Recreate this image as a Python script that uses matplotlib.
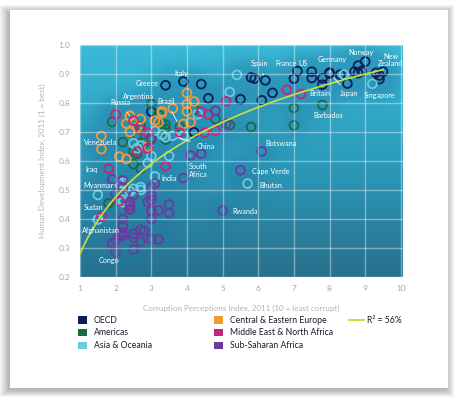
import numpy as np
import matplotlib
matplotlib.use("Agg")
import matplotlib.pyplot as plt
from matplotlib.colors import LinearSegmentedColormap
from matplotlib.patches import Rectangle, Patch
from matplotlib.lines import Line2D

plt.rcParams['font.family'] = ['Lato', 'DejaVu Sans']

# Corruption Perceptions Index (x) and Human Development Index (y), 2011
oecd_cpi = [8.8, 7.8, 7.5, 7.8, 8.7, 4.4, 9.4, 6.4, 9.4, 7.0, 8.0, 3.4, 4.6, 8.3, 7.5,
            5.8, 3.9, 8.0, 8.5, 3.0, 8.9, 9.5, 9.0, 5.5, 6.1, 5.9, 6.2, 9.3, 8.8, 4.2, 7.1]
oecd_hdi = [0.929, 0.885, 0.886, 0.863, 0.908, 0.865, 0.895, 0.835, 0.882, 0.884, 0.905,
            0.861, 0.816, 0.898, 0.908, 0.888, 0.874, 0.901, 0.867, 0.770, 0.910, 0.908,
            0.943, 0.813, 0.809, 0.884, 0.878, 0.904, 0.903, 0.699, 0.910]

amer_cpi = [3.0, 7.8, 2.8, 3.8, 3.4, 4.8, 4.2, 5.2, 2.6, 2.7, 3.4, 2.7, 2.5, 1.8, 2.6,
            3.3, 2.5, 3.3, 2.2, 3.4, 7.0, 5.8, 3.0, 3.2, 7.0, 1.9]
amer_hdi = [0.797, 0.793, 0.663, 0.718, 0.710, 0.744, 0.776, 0.724, 0.689, 0.720, 0.674,
            0.574, 0.633, 0.454, 0.625, 0.727, 0.589, 0.768, 0.665, 0.725, 0.723, 0.717,
            0.680, 0.760, 0.783, 0.735]

asia_cpi = [1.5, 2.7, 5.7, 5.2, 2.1, 3.6, 8.4, 3.1, 3.0, 5.4, 2.2, 4.3, 2.5, 2.7, 1.5,
            2.2, 2.5, 2.2, 2.6, 3.9, 9.2, 2.7, 3.3, 3.4, 2.4, 3.1, 3.5, 2.9]
asia_hdi = [0.398, 0.500, 0.522, 0.838, 0.523, 0.687, 0.898, 0.547, 0.617, 0.897, 0.524,
            0.761, 0.661, 0.653, 0.483, 0.458, 0.504, 0.466, 0.644, 0.688, 0.866, 0.510,
            0.691, 0.682, 0.495, 0.704, 0.617, 0.593]

cee_cpi = [3.1, 2.6, 2.4, 2.4, 3.2, 3.3, 4.0, 4.1, 2.7, 2.1, 4.2, 3.9, 2.9, 4.0, 3.6,
           2.4, 3.3, 4.0, 2.3, 1.6, 2.3, 1.6]
cee_hdi = [0.739, 0.716, 0.700, 0.756, 0.733, 0.771, 0.796, 0.733, 0.745, 0.615, 0.805,
           0.728, 0.649, 0.771, 0.781, 0.755, 0.766, 0.834, 0.607, 0.686, 0.729, 0.641]

mena_cpi = [2.9, 5.1, 2.9, 2.7, 1.8, 4.5, 4.6, 2.5, 2.0, 3.4, 4.8, 7.2, 4.4, 1.6, 2.6,
            3.8, 6.8, 2.1, 3.0, 2.4]
mena_hdi = [0.698, 0.806, 0.644, 0.707, 0.573, 0.698, 0.760, 0.739, 0.760, 0.582, 0.705,
            0.831, 0.770, 0.408, 0.632, 0.698, 0.846, 0.462, 0.430, 0.453]

ssa_cpi = [2.0, 3.0, 6.1, 3.0, 1.9, 2.5, 5.5, 2.2, 2.0, 2.4, 2.2, 2.0, 2.2, 1.9, 2.5,
           2.7, 3.0, 3.5, 3.9, 2.1, 2.2, 2.2, 3.5, 3.2, 3.0, 3.0, 2.8, 5.1, 2.7, 4.4,
           2.5, 2.4, 5.0, 3.0, 2.9, 4.8, 2.5, 4.1, 3.1, 3.0, 2.4, 2.4, 3.2, 2.2]
ssa_hdi = [0.486, 0.427, 0.633, 0.331, 0.316, 0.482, 0.568, 0.343, 0.328, 0.433, 0.533,
           0.286, 0.400, 0.537, 0.349, 0.363, 0.674, 0.420, 0.541, 0.344, 0.353, 0.509,
           0.450, 0.329, 0.480, 0.400, 0.359, 0.728, 0.322, 0.625, 0.295, 0.459, 0.429,
           0.509, 0.459, 0.773, 0.336, 0.619, 0.522, 0.466, 0.435, 0.446, 0.430, 0.376]

groups = ['OECD', 'Americas', 'Asia & Oceania', 'Central & Eastern Europe',
          'Middle East & North Africa', 'Sub-Saharan Africa']
colors = ['#0b1f5c', '#1a6b45', '#6ccbe0', '#f39a36', '#c2257a', '#6b3aa0']
series = [(oecd_cpi, oecd_hdi), (amer_cpi, amer_hdi), (asia_cpi, asia_hdi),
          (cee_cpi, cee_hdi), (mena_cpi, mena_hdi), (ssa_cpi, ssa_hdi)]

# trend curve as drawn: hdi = a + b * ln(cpi), over cpi 1 .. 9.5
trend_a = 0.28
trend_b = 0.282
trend_range = [1.0, 9.5]

# labelled countries: name, point, text position
lab_names = ['Greece', 'Italy', 'Argentina', 'Russia', 'Brazil', 'Venezuela', 'China',
             'South\nAfrica', 'India', 'Iraq', 'Myanmar', 'Sudan', 'Afghanistan', 'Congo',
             'Rwanda', 'Botswana', 'Cape Verde', 'Bhutan', 'Spain', 'France', 'US',
             'Germany', 'Norway', 'New\nZealand', 'Britain', 'Japan', 'Singapore', 'Barbados']
lab_px = [3.4, 3.9, 3.0, 2.4, 3.8, 1.9, 3.6, 4.1, 3.1, 1.8, 1.5, 1.6, 1.5, 2.0,
          5.0, 6.1, 5.5, 5.7, 6.2, 7.0, 7.1, 8.0, 9.0, 9.5, 7.8, 8.0, 9.2, 7.8]
lab_py = [0.861, 0.874, 0.797, 0.755, 0.718, 0.735, 0.687, 0.619, 0.547, 0.573, 0.483,
          0.408, 0.398, 0.286, 0.429, 0.633, 0.568, 0.522, 0.878, 0.884, 0.910, 0.905,
          0.943, 0.908, 0.863, 0.901, 0.866, 0.793]
lab_tx = [2.89, 3.85, 2.63, 2.12, 3.43, 1.58, 4.54, 4.32, 3.51, 1.31, 1.51, 1.38, 1.60, 1.82,
          5.62, 6.65, 6.34, 6.35, 6.02, 6.77, 7.27, 8.08, 8.89, 9.72, 7.74, 8.55, 9.39, 7.96]
lab_ty = [0.866, 0.903, 0.822, 0.800, 0.805, 0.665, 0.650, 0.568, 0.539, 0.571, 0.516,
          0.440, 0.362, 0.258, 0.427, 0.660, 0.565, 0.514, 0.937, 0.937, 0.937, 0.950,
          0.974, 0.948, 0.833, 0.831, 0.825, 0.757]
lab_line = [False, False, False, True, True, False, True, True, False, False, False,
            False, False, False, False, False, False, False, True, True, False, True,
            False, False, False, True, False, False]

fig = plt.figure(figsize=(4.58, 3.98), dpi=100)
fig.patch.set_facecolor('white')

# card with soft shadow
for i in range(8):
    g = i * 0.0025
    fig.patches.append(Rectangle((0.0218 - g - 0.004, 0.025 - g - 0.006), 0.9562 + 2 * g,
                                 0.95 + 2 * g, transform=fig.transFigure,
                                 facecolor='black', edgecolor='none', alpha=0.04, zorder=0))
fig.patches.append(Rectangle((0.0218, 0.025), 0.9562, 0.95, transform=fig.transFigure,
                             facecolor='white', edgecolor='none', zorder=1))

ax = fig.add_axes([0.1747, 0.304, 0.7052, 0.583])
ax.set_zorder(2)
xmin, xmax, ymin, ymax = 1, 10.06, 0.2, 1.0
ax.set_xlim(xmin, xmax)
ax.set_ylim(ymin, ymax)

# gradient background
bg = LinearSegmentedColormap.from_list('bg', ['#28708d', '#2c9bbb', '#3abbd9'])
ax.imshow(np.linspace(0, 1, 256).reshape(-1, 1), cmap=bg, origin='lower', aspect='auto',
          extent=[xmin, xmax, ymin, ymax], zorder=0)

# dark glow under the points
allx = np.concatenate([np.array(s[0]) for s in series])
ally = np.concatenate([np.array(s[1]) for s in series])
gx, gy = np.meshgrid(np.linspace(xmin, xmax, 320), np.linspace(ymin, ymax, 260))
d = np.zeros_like(gx)
for px, py in zip(allx, ally):
    d += np.exp(-(((gx - px) / 0.30) ** 2 + ((gy - py) / 0.036) ** 2) / 2)
glow = np.zeros(gx.shape + (4,))
glow[..., 0], glow[..., 1], glow[..., 2] = 0.13, 0.47, 0.63
glow[..., 3] = 0.45 * (1 - np.exp(-d * 1.2))
ax.imshow(glow, origin='lower', aspect='auto', extent=[xmin, xmax, ymin, ymax], zorder=0.5)

ax.set_xticks(range(1, 11))
ax.set_yticks(np.arange(0.2, 1.01, 0.1))
ax.set_yticklabels([f'{v:.1f}' for v in np.arange(0.2, 1.01, 0.1)])
ax.grid(True, color='white', alpha=0.4, lw=1.0, zorder=1)
ax.set_axisbelow(False)
for sp in ax.spines.values():
    sp.set_visible(False)
ax.tick_params(length=0, labelsize=6, colors='#a8a8a8')
ax.tick_params(axis='y', pad=7)
ax.tick_params(axis='x', pad=6)
ax.set_xlabel('Corruption Perceptions Index, 2011 (10 = least corrupt)', fontsize=5.8,
              color='#b3b3b3')
ax.set_ylabel('Human Development Index, 2011 (1 = best)', fontsize=5.8, color='#b3b3b3')
ax.xaxis.set_label_coords(0.5, -0.12)
ax.yaxis.set_label_coords(-0.105, 0.5)

for (cx, cy), col in zip(series, colors):
    ax.scatter(cx, cy, s=40, facecolors='none', edgecolors=col, linewidths=1.3, zorder=2)

fx = np.linspace(trend_range[0], trend_range[1], 200)
ax.plot(fx, trend_a + trend_b * np.log(fx), color='#c8e03c', lw=1.2, zorder=3)

for name, px, py, tx, ty, ln in zip(lab_names, lab_px, lab_py, lab_tx, lab_ty, lab_line):
    if ln:
        ax.annotate(name, xy=(px, py), xytext=(tx, ty), ha='center', va='center',
                    fontsize=5.2, color='white', zorder=4,
                    arrowprops=dict(arrowstyle='-', color='white', lw=0.6,
                                    shrinkA=3, shrinkB=4))
    else:
        ax.text(tx, ty, name, ha='center', va='center', fontsize=5.2, color='white',
                zorder=4, linespacing=1.0)

handles = [Patch(facecolor=c, edgecolor='none') for c in colors]
leg_kw = dict(loc='upper left', frameon=False, fontsize=6.2, handlelength=1.0,
              handleheight=1.0, handletextpad=0.8, labelspacing=0.45, borderpad=0,
              borderaxespad=0, labelcolor='#1a1a2e')
fig.legend(handles[:3], groups[:3], bbox_to_anchor=(0.171, 0.207), **leg_kw)
fig.legend(handles[3:], groups[3:], bbox_to_anchor=(0.468, 0.207), **leg_kw)
fig.legend([Line2D([0], [0], color='#c8e03c', lw=1.4)], ['R² = 56%'],
           bbox_to_anchor=(0.762, 0.207), loc='upper left', frameon=False, fontsize=6.2,
           handlelength=1.8, handletextpad=0.3, borderpad=0, borderaxespad=0,
           labelcolor='#1a1a2e')

fig.savefig('out.png', dpi=100)
